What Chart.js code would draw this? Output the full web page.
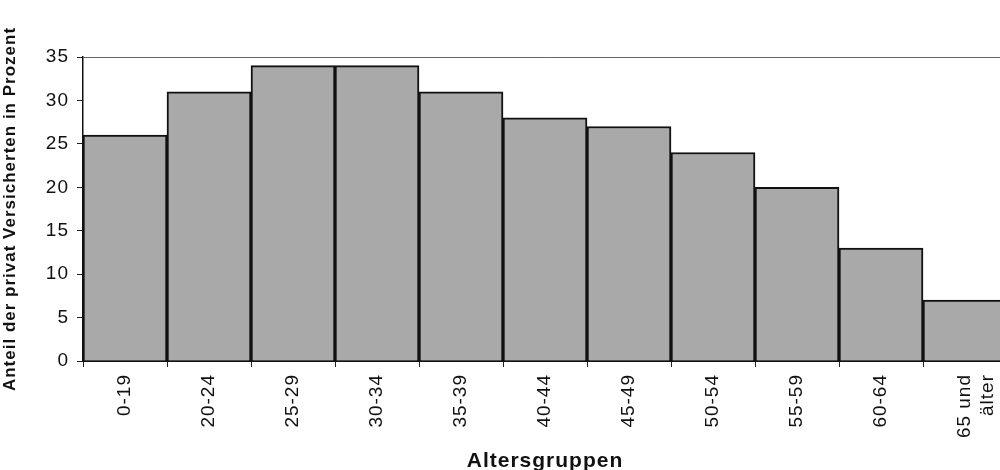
<!DOCTYPE html>
<html>
<head>
<meta charset="utf-8">
<script src="https://cdn.jsdelivr.net/npm/chart.js@4"></script>
<style>
  html, body { margin: 0; padding: 0; background: #fff; overflow: hidden; }
  #wrap { width: 1010px; height: 470px; }
</style>
</head>
<body>
<div id="wrap"><canvas id="chart"></canvas></div>
<script>
// Altersgruppen und Anteil privat Versicherter (%)
const categories = ['0-19', '20-24', '25-29', '30-34', '35-39', '40-44', '45-49', '50-54', '55-59', '60-64', ['65 und', 'älter']];
const shares = [26, 31, 34, 34, 31, 28, 27, 24, 20, 13, 7];
const yTicks = [0, 5, 10, 15, 20, 25, 30, 35];

const font = 'Liberation Sans, Arial, sans-serif';

// the scanned original has slightly spread-out lettering
const spacing = {
    id: 'spacing',
    beforeLayout(chart) { chart.ctx.letterSpacing = '1px'; },
    beforeDraw(chart) { chart.ctx.letterSpacing = '1px'; }
};

new Chart(document.getElementById('chart'), {
    type: 'bar',
    data: {
        labels: categories,
        datasets: [{
            data: shares,
            backgroundColor: '#a9a9a9',
            borderColor: '#111',
            borderWidth: 2,
            borderSkipped: 'bottom',
            barPercentage: 1.0,
            categoryPercentage: 1.0
        }]
    },
    plugins: [spacing],
    options: {
        responsive: true,
        maintainAspectRatio: false,
        animation: false,
        layout: { padding: { top: 57, right: 3, left: 0, bottom: 0 } },
        plugins: {
            legend: { display: false },
            tooltip: { enabled: false }
        },
        scales: {
            x: {
                grid: { color: 'transparent', tickColor: '#222', tickLength: 6, offset: true },
                border: { color: '#111', width: 2 },
                ticks: {
                    color: '#111',
                    font: { family: font, size: 19 },
                    minRotation: 90,
                    maxRotation: 90,
                    padding: 7,
                    autoSkip: false
                },
                title: {
                    display: true,
                    text: 'Altersgruppen',
                    color: '#111',
                    font: { family: font, size: 21, weight: 'bold' },
                    padding: { top: 0, bottom: -4 }
                },
                afterFit: (axis) => {
                    axis.height = 109;
                    axis.paddingLeft = 0;
                    axis.paddingRight = 0;
                }
            },
            y: {
                min: 0,
                max: 35,
                afterBuildTicks: (axis) => { axis.ticks = yTicks.map(v => ({ value: v })); },
                grid: {
                    color: (c) => c.tick && c.tick.value === 35 ? '#666' : 'transparent',
                    tickColor: '#222',
                    tickLength: 6,
                    drawOnChartArea: true
                },
                border: { color: '#111', width: 1.5 },
                ticks: {
                    color: '#111',
                    font: { family: font, size: 19 },
                    padding: 8
                },
                title: {
                    display: true,
                    text: 'Anteil der privat Versicherten in Prozent',
                    color: '#111',
                    font: { family: font, size: 17, weight: 'bold' },
                    padding: { top: 0, bottom: 0 }
                },
                afterFit: (axis) => { axis.width = 83; }
            }
        }
    }
});
</script>
</body>
</html>
